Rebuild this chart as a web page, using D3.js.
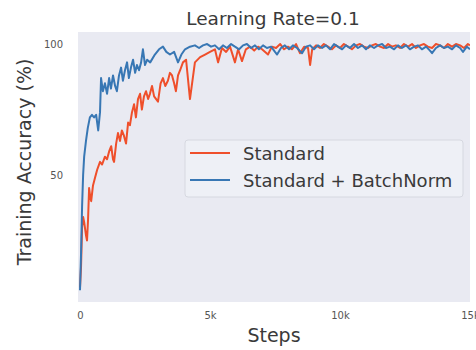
<!DOCTYPE html>
<html>
<head>
<meta charset="utf-8">
<script src="https://cdn.jsdelivr.net/npm/d3@7"></script>
<style>
  html, body { margin: 0; padding: 0; background: #ffffff; }
  svg { display: block; font-family: "DejaVu Sans", sans-serif; }
</style>
</head>
<body>
<svg id="chart" width="476" height="350"></svg>
<script>
// Training accuracy over steps, learning rate 0.1
const seriesNames = ["Standard", "Standard + BatchNorm"];
const seriesColors = ["#ef4f2b", "#3877b4"];

const stdSteps = [0, 40, 80, 120, 160, 230, 270, 310, 350, 390, 430, 500, 580, 660, 770, 850, 960, 1040, 1120, 1200, 1270, 1310, 1390, 1460, 1540, 1610, 1690, 1770, 1850, 1920, 2000, 2080, 2150, 2230, 2310, 2380, 2460, 2540, 2620, 2690, 2770, 2850, 3000, 3100, 3190, 3280, 3380, 3460, 3540, 3620, 3690, 3770, 3850, 3960, 4080, 4230, 4420, 4620, 4810, 5000, 5190, 5310, 5460, 5620, 5770, 5960, 6080, 6230, 6380, 6540, 6700, 6850, 7000, 7230, 7380, 7540, 7700, 7850, 8000, 8150, 8310, 8460, 8620, 8770, 8850, 8930, 9080, 9230, 9380, 9540, 9690, 9850, 10000, 10150, 10310, 10460, 10620, 10770, 10920, 11080, 11230, 11380, 11540, 11690, 11850, 12000, 12150, 12310, 12460, 12620, 12770, 12920, 13080, 13230, 13380, 13540, 13690, 13850, 14000, 14150, 14310, 14460, 14620, 14770, 14920, 15000];
const stdAcc = [7, 15, 30, 34, 32, 27, 25, 33, 45, 42, 40, 46, 49, 52, 55, 54, 57, 56, 59, 61, 56, 55, 62, 66, 63, 67, 65, 62, 70, 69, 74, 77, 72, 79, 81, 75, 80, 82, 79, 81, 84, 80, 78, 85, 87, 84, 86, 89, 88, 85, 82, 88, 90, 93, 94, 79, 93, 95, 96, 97, 98, 93, 98.5, 97, 99, 93, 98, 93.5, 98, 99, 97.5, 99, 98, 96, 99, 98.5, 100, 98, 99, 98, 100, 96.5, 99, 98.5, 92, 98, 99.5, 98.5, 100, 99, 98, 99.5, 98.5, 100, 99, 98, 99.5, 100, 99, 98.5, 99.5, 100, 99, 98.5, 100, 99, 99.5, 98.5, 100, 99, 100, 98.5, 99.5, 100, 99, 98.5, 100, 99.5, 98.5, 100, 99, 100, 99.5, 98.5, 100, 99.5];

const bnSteps = [0, 40, 80, 120, 160, 230, 300, 380, 460, 540, 620, 700, 770, 810, 880, 960, 1040, 1120, 1190, 1270, 1350, 1420, 1500, 1580, 1650, 1730, 1810, 1880, 1960, 2040, 2120, 2190, 2270, 2350, 2420, 2500, 2580, 2700, 2880, 3040, 3190, 3320, 3460, 3620, 3770, 3900, 4040, 4230, 4420, 4580, 4730, 4890, 5040, 5190, 5350, 5500, 5650, 5810, 5960, 6120, 6270, 6420, 6580, 6730, 6880, 7040, 7190, 7350, 7500, 7580, 7730, 7880, 8040, 8190, 8350, 8540, 8690, 8850, 9000, 9150, 9310, 9460, 9620, 9770, 9920, 10080, 10230, 10380, 10540, 10690, 10850, 11000, 11150, 11310, 11460, 11620, 11770, 11920, 12080, 12230, 12380, 12540, 12690, 12850, 13000, 13150, 13310, 13460, 13540, 13690, 13850, 14000, 14150, 14310, 14460, 14620, 14730, 14880, 15000];
const bnAcc = [6, 20, 38, 50, 57, 63, 68, 72, 73, 72, 73, 67, 74, 87, 82, 85, 81, 87, 83, 88, 84, 82, 88, 91, 86, 90, 93, 87, 91, 94, 89, 92, 90, 93, 98, 92, 94, 93, 96, 98, 99, 97, 96, 97, 93, 96, 98, 99, 99.5, 98.5, 99.5, 100, 99, 99.5, 98, 99.5, 98.5, 100, 99, 98, 99.5, 100, 98.5, 99.5, 98, 99.5, 98.5, 99, 97, 96, 98.5, 99.5, 98, 99.5, 98.5, 96.5, 99, 99.5, 98, 99.5, 98.5, 99.5, 98, 100, 99, 98, 99.5, 98.5, 100, 98.5, 99.5, 98, 99.5, 98.5, 99.5, 100, 98.5, 99, 98, 99.5, 98.5, 99.5, 98, 99, 99.5, 98, 99, 97.5, 96.5, 98.5, 99.5, 98.5, 99, 98, 99.5, 98.5, 97, 99, 98];

const xTicks = [0, 5000, 10000, 15000];
const xTickLabels = ["0", "5k", "10k", "15k"];
const yTicks = [50, 100];
const yTickLabels = ["50", "100"];

const svg = d3.select("#chart");
const plot = { left: 78, right: 470, top: 32, bottom: 302 };

const x = d3.scaleLinear().domain([-77, 15000]).range([plot.left, plot.right]);
const y = d3.scaleLinear().domain([1.5, 104.6]).range([plot.bottom, plot.top]);

// plot background
svg.append("rect")
  .attr("x", plot.left).attr("y", plot.top)
  .attr("width", plot.right - plot.left).attr("height", plot.bottom - plot.top)
  .attr("fill", "#e9eaf2");

svg.append("clipPath").attr("id", "plot-clip")
  .append("rect")
  .attr("x", plot.left).attr("y", plot.top)
  .attr("width", plot.right - plot.left).attr("height", plot.bottom - plot.top);

// axes (ticks without lines)
const xAxis = d3.axisBottom(x).tickValues(xTicks)
  .tickFormat((d, i) => xTickLabels[i]).tickSize(0).tickPadding(10);
const yAxis = d3.axisLeft(y).tickValues(yTicks)
  .tickFormat((d, i) => yTickLabels[i]).tickSize(0).tickPadding(15);

const gx = svg.append("g").attr("transform", `translate(0,${plot.bottom})`).call(xAxis);
const gy = svg.append("g").attr("transform", `translate(${plot.left},0)`).call(yAxis);
[gx, gy].forEach(g => {
  g.select(".domain").remove();
  g.selectAll("text").attr("fill", "#555").style("font-size", "10px")
    .style("font-family", "DejaVu Sans, sans-serif");
});

// series lines
const line = d3.line().x(d => x(d[0])).y(d => y(d[1]));
const series = [
  stdSteps.map((s, i) => [s, stdAcc[i]]),
  bnSteps.map((s, i) => [s, bnAcc[i]])
];
const lines = svg.append("g").attr("clip-path", "url(#plot-clip)");
series.forEach((pts, i) => {
  lines.append("path")
    .datum(pts)
    .attr("d", line)
    .attr("fill", "none")
    .attr("stroke", seriesColors[i])
    .attr("stroke-width", 2)
    .attr("stroke-linejoin", "round");
});

// title and axis labels
svg.append("text")
  .attr("x", 273).attr("y", 25)
  .attr("text-anchor", "middle")
  .attr("fill", "#3a3a3a")
  .style("font-size", "18.5px")
  .text("Learning Rate=0.1");

svg.append("text")
  .attr("x", 274).attr("y", 342)
  .attr("text-anchor", "middle")
  .attr("fill", "#3a3a3a")
  .style("font-size", "19px")
  .text("Steps");

svg.append("text")
  .attr("transform", "translate(31,162) rotate(-90)")
  .attr("text-anchor", "middle")
  .attr("fill", "#3a3a3a")
  .style("font-size", "19px")
  .text("Training Accuracy (%)");

// legend
const legend = svg.append("g");
legend.append("rect")
  .attr("x", 185).attr("y", 140)
  .attr("width", 278).attr("height", 57)
  .attr("rx", 3)
  .attr("fill", "#eef0f6")
  .attr("stroke", "#d6d8e0")
  .attr("stroke-width", 1);
seriesNames.forEach((name, i) => {
  const yy = 153 + i * 27;
  legend.append("line")
    .attr("x1", 190).attr("x2", 230)
    .attr("y1", yy).attr("y2", yy)
    .attr("stroke", seriesColors[i])
    .attr("stroke-width", 2.2);
  legend.append("text")
    .attr("x", 243).attr("y", yy + 7)
    .attr("fill", "#3a3a3a")
    .style("font-size", "18px")
    .text(name);
});
</script>
</body>
</html>
